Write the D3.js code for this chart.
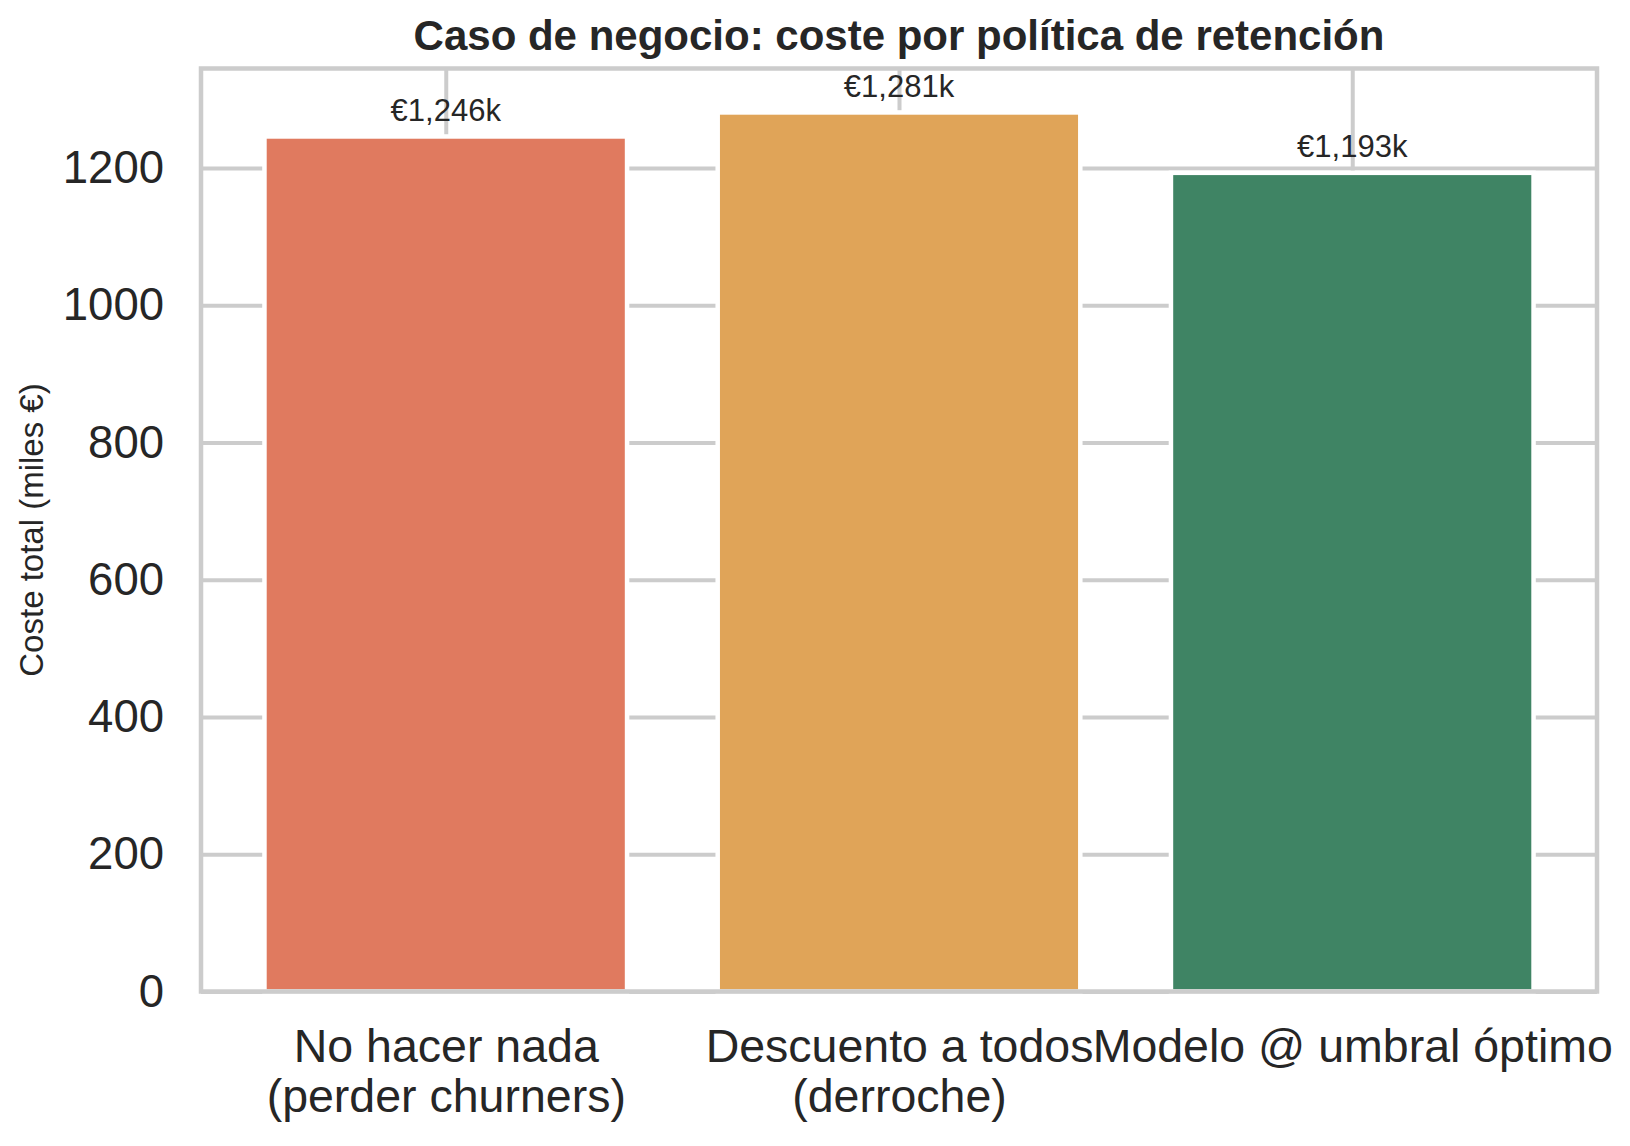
<!DOCTYPE html>
<html>
<head>
<meta charset="utf-8">
<script src="https://cdn.jsdelivr.net/npm/d3@7"></script>
<style>
  body { margin: 0; background: #fff; }
  text { font-family: "Liberation Sans", Arial, sans-serif; fill: #262626; }
</style>
</head>
<body>
<svg width="1630" height="1146"></svg>
<script>
const width = 1630;
const height = 1146;

// data
const categories = ["No hacer nada\n(perder churners)", "Descuento a todos\n(derroche)", "Modelo @ umbral óptimo"];
const costs = [1246, 1281, 1193];
const barColors = ["#e07a5f", "#e0a458", "#3f8464"];
const yTicks = [0, 200, 400, 600, 800, 1000, 1200];

const plotLeft = 201, plotRight = 1597, plotTop = 68.5, plotBottom = 991.5;

const svg = d3.select("svg");

//--------------------scales--------------------
const x = d3.scaleLinear()
    .domain([-0.54, categories.length - 1 + 0.54])
    .range([plotLeft, plotRight]);

const y = d3.scaleLinear()
    .domain([0, d3.max(costs) * 1.05])
    .range([plotBottom, plotTop]);

//--------------------grid + axes--------------------
const yAxis = svg.append("g")
    .attr("transform", "translate(" + plotLeft + ",0)")
    .call(d3.axisLeft(y).tickValues(yTicks).tickFormat(d3.format("d"))
        .tickSize(-(plotRight - plotLeft)).tickPadding(37));

yAxis.select(".domain").remove();
yAxis.selectAll("line").attr("stroke", "#cccccc").attr("stroke-width", 4);
yAxis.selectAll("text")
    .attr("font-size", 45.5)
    .attr("fill", "#262626")
    .style("font-family", "'Liberation Sans', Arial, sans-serif");

const xAxis = svg.append("g")
    .attr("transform", "translate(0," + plotBottom + ")")
    .call(d3.axisBottom(x).tickValues(d3.range(categories.length)).tickSize(-(plotBottom - plotTop)).tickFormat(""));

xAxis.select(".domain").remove();
xAxis.selectAll("line").attr("stroke", "#cccccc").attr("stroke-width", 4);

// multi-line category labels
xAxis.selectAll(".tick").each(function (d) {
    const t = d3.select(this).select("text")
        .attr("y", 0)
        .attr("dy", null)
        .attr("font-size", 46.5)
        .attr("fill", "#262626")
        .style("font-family", "'Liberation Sans', Arial, sans-serif");
    categories[d].split("\n").forEach((line, i) => {
        t.append("tspan")
            .attr("x", 0)
            .attr("y", 70 + i * 50)
            .text(line);
    });
});

//--------------------bars--------------------
svg.append("g")
    .selectAll("rect")
    .data(costs)
    .enter()
    .append("rect")
    .attr("x", (d, i) => x(i - 0.4))
    .attr("y", d => y(d))
    .attr("width", (d, i) => x(i + 0.4) - x(i - 0.4))
    .attr("height", d => plotBottom - y(d))
    .attr("fill", (d, i) => barColors[i])
    .attr("stroke", "white")
    .attr("stroke-width", 4.5);

//value labels
svg.append("g")
    .selectAll("text")
    .data(costs)
    .enter()
    .append("text")
    .attr("x", (d, i) => x(i))
    .attr("y", d => y(d) - 15.5)
    .attr("text-anchor", "middle")
    .attr("font-size", 31)
    .text(d => "€" + d3.format(",")(d) + "k");

//frame
svg.append("rect")
    .attr("x", plotLeft)
    .attr("y", plotTop)
    .attr("width", plotRight - plotLeft)
    .attr("height", plotBottom - plotTop)
    .attr("fill", "none")
    .attr("stroke", "#cccccc")
    .attr("stroke-width", 4.5);

//--------------------titles--------------------
svg.append("text")
    .attr("x", (plotLeft + plotRight) / 2)
    .attr("y", 50)
    .attr("text-anchor", "middle")
    .attr("font-size", 42)
    .attr("font-weight", "bold")
    .text("Caso de negocio: coste por política de retención");

svg.append("text")
    .attr("transform", "translate(43," + (plotTop + plotBottom) / 2 + ") rotate(-90)")
    .attr("text-anchor", "middle")
    .attr("font-size", 33)
    .text("Coste total (miles €)");
</script>
</body>
</html>
